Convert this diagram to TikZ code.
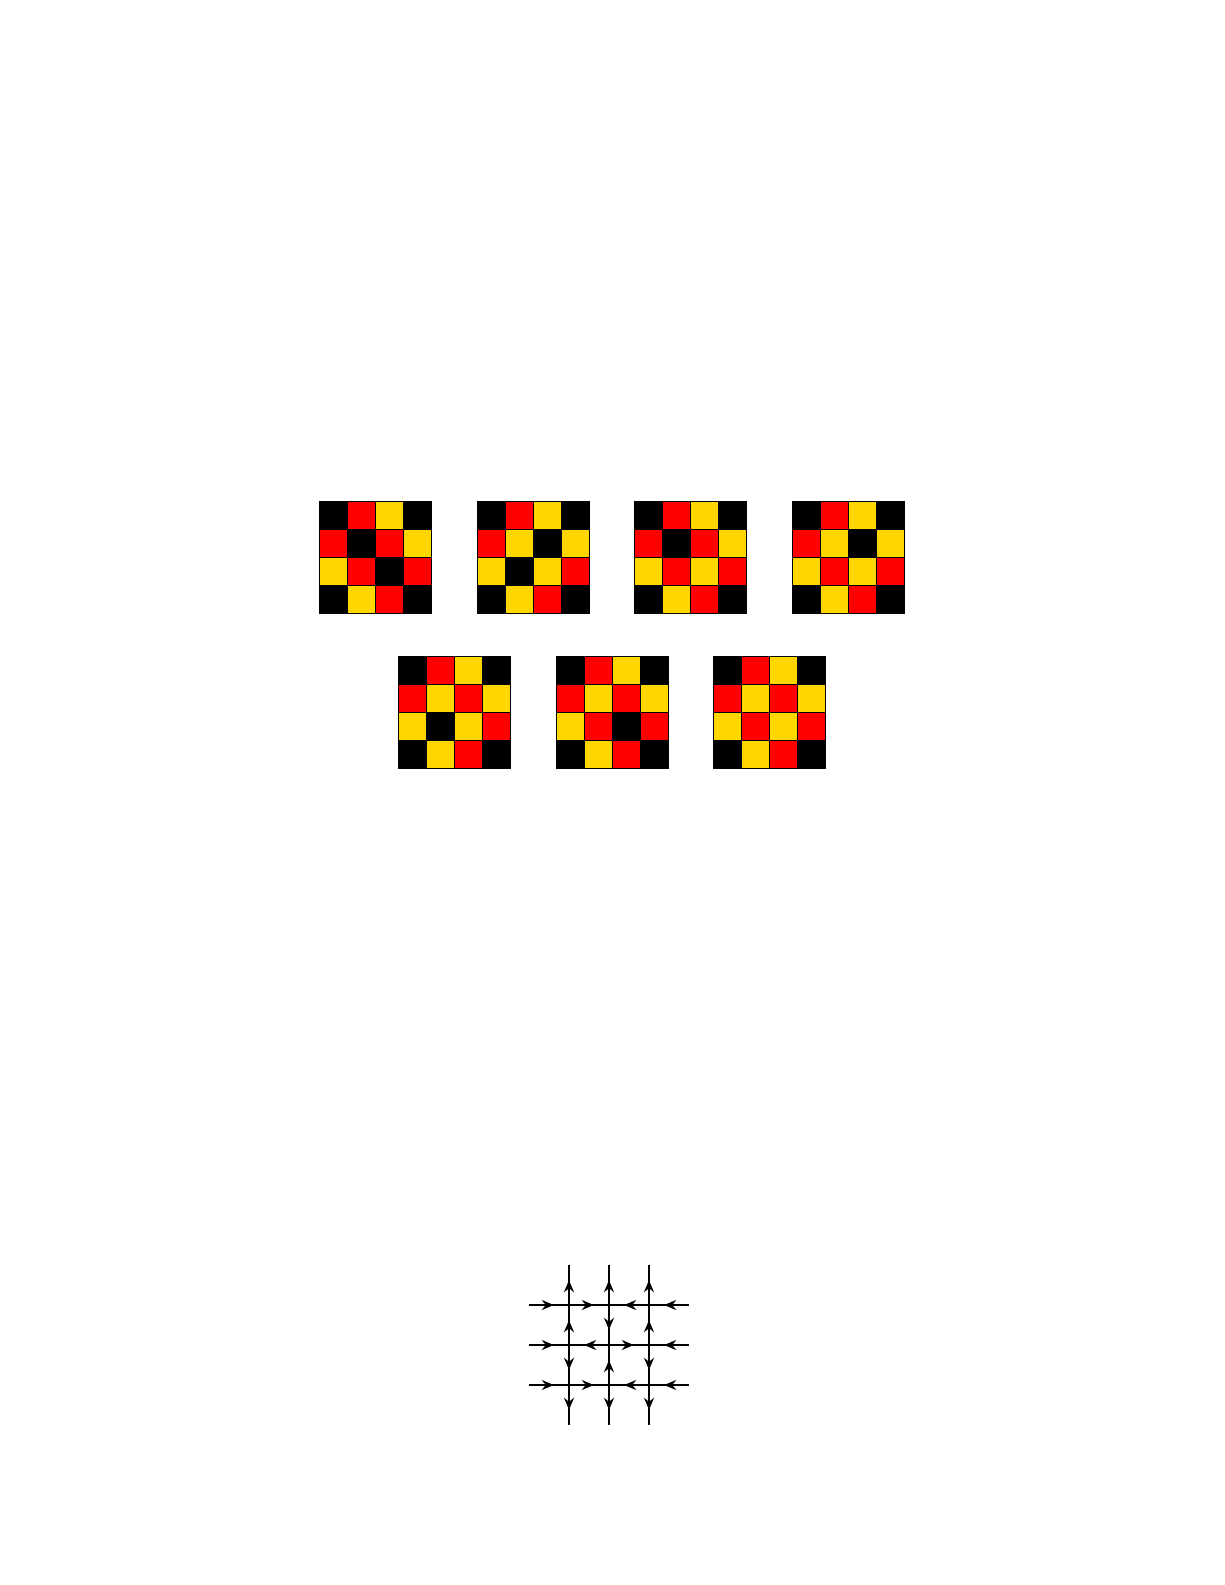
\documentclass[tikz,border=0pt]{standalone}
\usetikzlibrary{arrows.meta,decorations.markings}
\definecolor{cK}{RGB}{0,0,0}
\definecolor{cR}{RGB}{255,0,0}
\definecolor{cY}{RGB}{255,214,0}
\newcommand\colorgrid[3]{%
  \foreach \c [count=\i from 0] in {#3} {
    \pgfmathtruncatemacro\gcol{mod(\i,4)}
    \pgfmathtruncatemacro\grow{int(\i/4)}
    \filldraw[cell, fill=\c] (#1+28.2*\gcol, #2+28.2*\grow) rectangle ++(28.2,28.2);
  }}
\tikzset{
  cell/.style={draw=black, line width=0.9},
  thickline/.style={line width=2.6},
  thinline/.style={line width=1.4},
  fwd/.style={postaction={decorate}, decoration={markings,
     mark=at position 0.62 with {\arrow{Stealth[length=12,width=10,inset=4]}}}},
  bwd/.style={postaction={decorate}, decoration={markings,
     mark=at position 0.38 with {\arrowreversed{Stealth[length=12,width=10,inset=4]}}}}
}
\begin{document}
\begin{tikzpicture}[x=1pt,y=-1pt]
\useasboundingbox[fill=white] (0,0) rectangle (1225,1585);
% row 1
\colorgrid{319}{501}{cK,cR,cY,cK, cR,cK,cR,cY, cY,cR,cK,cR, cK,cY,cR,cK}
\colorgrid{477}{501}{cK,cR,cY,cK, cR,cY,cK,cY, cY,cK,cY,cR, cK,cY,cR,cK}
\colorgrid{634}{501}{cK,cR,cY,cK, cR,cK,cR,cY, cY,cR,cY,cR, cK,cY,cR,cK}
\colorgrid{792}{501}{cK,cR,cY,cK, cR,cY,cK,cY, cY,cR,cY,cR, cK,cY,cR,cK}
% row 2
\colorgrid{398}{656}{cK,cR,cY,cK, cR,cY,cR,cY, cY,cK,cY,cR, cK,cY,cR,cK}
\colorgrid{556}{656}{cK,cR,cY,cK, cR,cY,cR,cY, cY,cR,cK,cR, cK,cY,cR,cK}
\colorgrid{713}{656}{cK,cR,cY,cK, cR,cY,cR,cY, cY,cR,cY,cR, cK,cY,cR,cK}
% lattice coordinates
\foreach \i in {0,...,4} {
  \foreach \j in {0,...,4} {
    \coordinate (p\i\j) at (529+40*\i, 1265+40*\j);
  }
}
% horizontal lines: row j=1 (thick), j=2 (thick), j=3 (thin)
\draw[thickline,fwd] (p01) -- (p11);
\draw[thickline,fwd] (p11) -- (p21);
\draw[thickline,bwd] (p21) -- (p31);
\draw[thickline,bwd] (p31) -- (p41);
\draw[thickline,fwd] (p02) -- (p12);
\draw[thickline,bwd] (p12) -- (p22);
\draw[thickline,fwd] (p22) -- (p32);
\draw[thickline,bwd] (p32) -- (p42);
\draw[thinline,fwd] (p03) -- (p13);
\draw[thinline,fwd] (p13) -- (p23);
\draw[thinline,bwd] (p23) -- (p33);
\draw[thinline,bwd] (p33) -- (p43);
% vertical lines: column i=1 (thick), i=2, i=3 (thin); fwd = downward
\draw[thickline,bwd] (p10) -- (p11);
\draw[thickline,bwd] (p11) -- (p12);
\draw[thickline,fwd] (p12) -- (p13);
\draw[thickline,fwd] (p13) -- (p14);
\draw[thinline,bwd] (p20) -- (p21);
\draw[thinline,fwd] (p21) -- (p22);
\draw[thinline,bwd] (p22) -- (p23);
\draw[thinline,fwd] (p23) -- (p24);
\draw[thinline,bwd] (p30) -- (p31);
\draw[thinline,bwd] (p31) -- (p32);
\draw[thinline,fwd] (p32) -- (p33);
\draw[thinline,fwd] (p33) -- (p34);
\end{tikzpicture}
\end{document}
